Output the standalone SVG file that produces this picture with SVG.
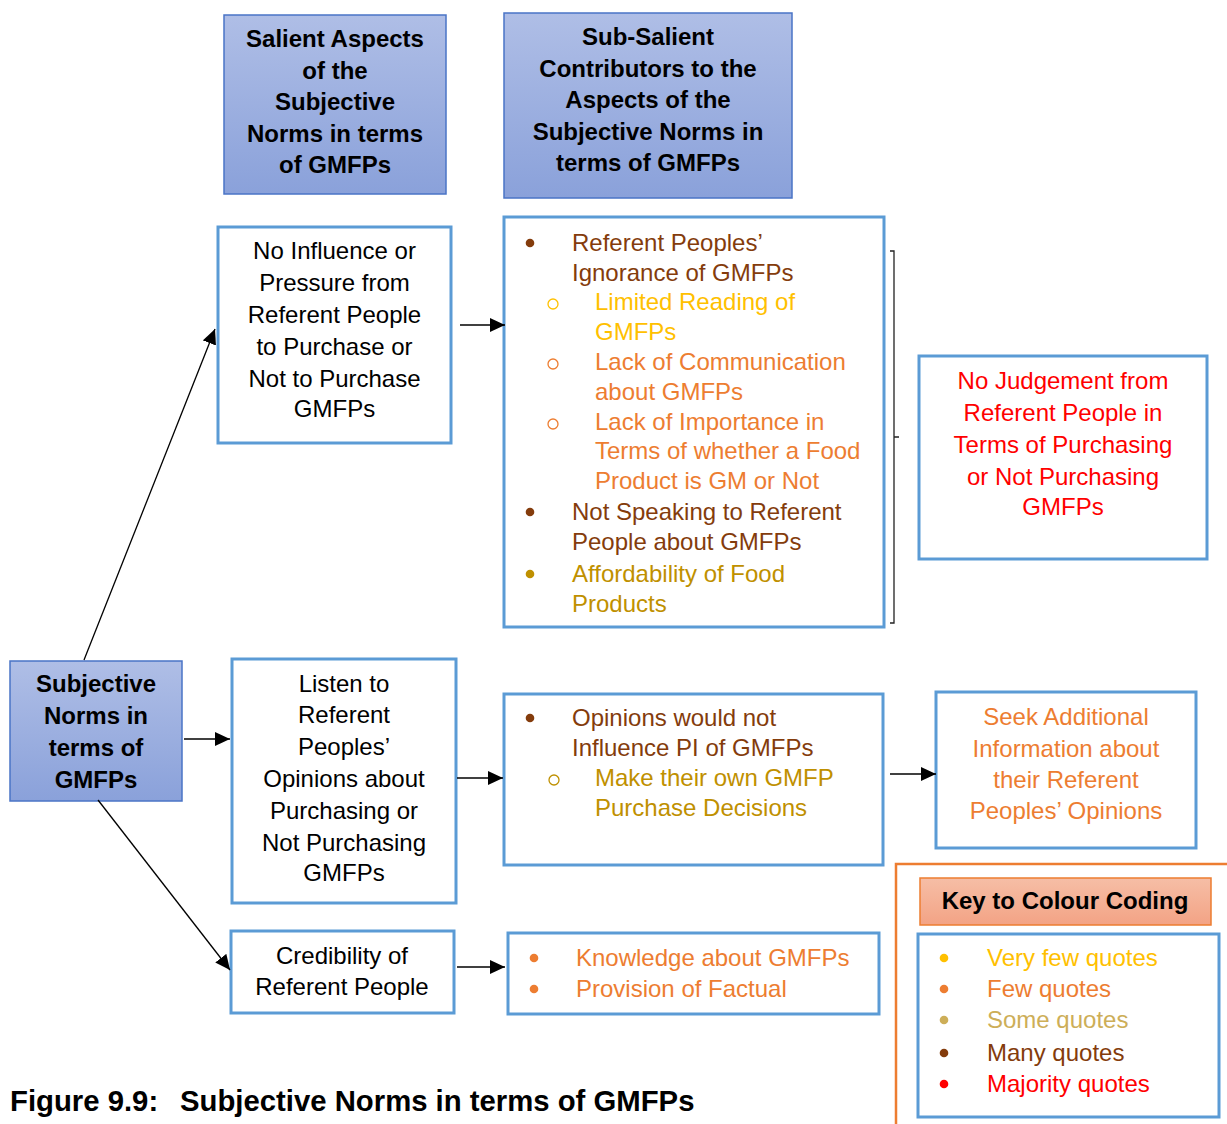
<svg xmlns="http://www.w3.org/2000/svg" width="1227" height="1124" viewBox="0 0 1227 1124">
  <defs>
    <linearGradient id="blueFill" x1="0" y1="0" x2="0" y2="1">
      <stop offset="0" stop-color="#afbee6"/>
      <stop offset="1" stop-color="#8aa1da"/>
    </linearGradient>
    <linearGradient id="salmonFill" x1="0" y1="0" x2="0" y2="1">
      <stop offset="0" stop-color="#f6bea6"/>
      <stop offset="1" stop-color="#f3a385"/>
    </linearGradient>
    <marker id="arrow" markerWidth="15" markerHeight="14" refX="15" refY="7" orient="auto" markerUnits="userSpaceOnUse">
      <path d="M0,0 L15,7 L0,14 z" fill="#000"/>
    </marker>
    <style>
      .t { font-family: "Liberation Sans", Arial, sans-serif; font-size: 24px; fill: #000; }
      .b { font-weight: bold; }
      .c { text-anchor: middle; }
      .ring { fill: none; stroke-width: 1.3; }
      .box { fill: #fff; stroke: #5b9bd5; stroke-width: 3; }
      .hdr { fill: url(#blueFill); stroke: #4a74c6; stroke-width: 1.5; }
      .conn { stroke: #000; stroke-width: 1.3; fill: none; marker-end: url(#arrow); }
      .many { fill: #843c0c; }
      .vfew { fill: #ffc000; }
      .few { fill: #ed7d31; }
      .some { fill: #bf9000; }
      .somekey { fill: #cdae58; }
      .major { fill: #ff0000; }
      .ring.vfew { stroke: #ffc000; fill: none; }
      .ring.few { stroke: #ed7d31; fill: none; }
      .ring.some { stroke: #bf9000; fill: none; }
    </style>
  </defs>

  <!-- column headings -->
  <g id="head-salient">
    <rect class="hdr" x="224" y="15" width="222" height="179"/>
    <text class="t b c" x="335" y="46.5">Salient Aspects</text>
    <text class="t b c" x="335" y="78.5">of the</text>
    <text class="t b c" x="335" y="109.5">Subjective</text>
    <text class="t b c" x="335" y="141.5">Norms in terms</text>
    <text class="t b c" x="335" y="172.5">of GMFPs</text>
  </g>
  <g id="head-subsalient">
    <rect class="hdr" x="504" y="13" width="288" height="185"/>
    <text class="t b c" x="648" y="44.5">Sub-Salient</text>
    <text class="t b c" x="648" y="76.5">Contributors to the</text>
    <text class="t b c" x="648" y="107.5">Aspects of the</text>
    <text class="t b c" x="648" y="139.5">Subjective Norms in</text>
    <text class="t b c" x="648" y="170.5">terms of GMFPs</text>
  </g>

  <!-- root -->
  <g id="subjective-norms">
    <rect class="hdr" x="10" y="661" width="172" height="140"/>
    <text class="t b c" x="96" y="692">Subjective</text>
    <text class="t b c" x="96" y="724">Norms in</text>
    <text class="t b c" x="96" y="756">terms of</text>
    <text class="t b c" x="96" y="788">GMFPs</text>
  </g>

  <!-- salient aspects -->
  <g id="no-influence">
    <rect class="box" x="218" y="227" width="233" height="216"/>
    <text class="t c" x="334.5" y="258.5">No Influence or</text>
    <text class="t c" x="334.5" y="290.5">Pressure from</text>
    <text class="t c" x="334.5" y="322.5">Referent People</text>
    <text class="t c" x="334.5" y="354.5">to Purchase or</text>
    <text class="t c" x="334.5" y="386.5">Not to Purchase</text>
    <text class="t c" x="334.5" y="416.5">GMFPs</text>
  </g>
  <g id="listen">
    <rect class="box" x="232" y="659" width="224" height="244"/>
    <text class="t c" x="344" y="691.5">Listen to</text>
    <text class="t c" x="344" y="722.5">Referent</text>
    <text class="t c" x="344" y="754.5">Peoples’</text>
    <text class="t c" x="344" y="786.5">Opinions about</text>
    <text class="t c" x="344" y="818.5">Purchasing or</text>
    <text class="t c" x="344" y="850.5">Not Purchasing</text>
    <text class="t c" x="344" y="880.5">GMFPs</text>
  </g>
  <g id="credibility">
    <rect class="box" x="231" y="931" width="223" height="82"/>
    <text class="t c" x="342" y="963.5">Credibility of</text>
    <text class="t c" x="342" y="994.5">Referent People</text>
  </g>

  <!-- sub-salient contributors -->
  <g id="ignorance-list">
    <rect class="box" x="504" y="217" width="380" height="410"/>
    <circle class="many" cx="530" cy="243" r="4.3"/>
    <text class="t many" x="572" y="251">Referent Peoples’</text>
    <text class="t many" x="572" y="281">Ignorance of GMFPs</text>
    <circle class="ring vfew" cx="553" cy="304" r="5"/>
    <text class="t vfew" x="595" y="310">Limited Reading of</text>
    <text class="t vfew" x="595" y="340">GMFPs</text>
    <circle class="ring few" cx="553" cy="364" r="5"/>
    <text class="t few" x="595" y="370">Lack of Communication</text>
    <text class="t few" x="595" y="400">about GMFPs</text>
    <circle class="ring few" cx="553" cy="424" r="5"/>
    <text class="t few" x="595" y="430">Lack of Importance in</text>
    <text class="t few" x="595" y="459">Terms of whether a Food</text>
    <text class="t few" x="595" y="489">Product is GM or Not</text>
    <circle class="many" cx="530" cy="512" r="4.3"/>
    <text class="t many" x="572" y="520">Not Speaking to Referent</text>
    <text class="t many" x="572" y="550">People about GMFPs</text>
    <circle class="some" cx="530" cy="574" r="4.3"/>
    <text class="t some" x="572" y="582">Affordability of Food</text>
    <text class="t some" x="572" y="612">Products</text>
  </g>
  <g id="opinions-list">
    <rect class="box" x="504" y="694" width="379" height="171"/>
    <circle class="many" cx="530" cy="718" r="4.3"/>
    <text class="t many" x="572" y="726">Opinions would not</text>
    <text class="t many" x="572" y="756">Influence PI of GMFPs</text>
    <circle class="ring some" cx="554" cy="780" r="5"/>
    <text class="t some" x="595" y="786">Make their own GMFP</text>
    <text class="t some" x="595" y="816">Purchase Decisions</text>
  </g>
  <g id="knowledge-list">
    <rect class="box" x="508" y="933" width="371" height="81"/>
    <circle class="few" cx="534" cy="958" r="4.3"/>
    <text class="t few" x="576" y="966">Knowledge about GMFPs</text>
    <circle class="few" cx="534" cy="989" r="4.3"/>
    <text class="t few" x="576" y="997">Provision of Factual</text>
  </g>

  <!-- outcomes -->
  <g id="no-judgement">
    <rect class="box" x="919" y="356" width="288" height="203"/>
    <text class="t c major" x="1063" y="388.5">No Judgement from</text>
    <text class="t c major" x="1063" y="420.5">Referent People in</text>
    <text class="t c major" x="1063" y="452.5">Terms of Purchasing</text>
    <text class="t c major" x="1063" y="484.5">or Not Purchasing</text>
    <text class="t c major" x="1063" y="514.5">GMFPs</text>
  </g>
  <g id="seek-information">
    <rect class="box" x="936" y="692" width="260" height="156"/>
    <text class="t c few" x="1066" y="724.5">Seek Additional</text>
    <text class="t c few" x="1066" y="756.5">Information about</text>
    <text class="t c few" x="1066" y="787.5">their Referent</text>
    <text class="t c few" x="1066" y="818.5">Peoples’ Opinions</text>
  </g>

  <!-- colour key -->
  <g id="colour-key">
    <path d="M1230,864 H896 V1128" fill="none" stroke="#ed7d31" stroke-width="2.5"/>
    <rect x="920" y="878" width="291" height="47" fill="url(#salmonFill)" stroke="#ed7d31" stroke-width="1.5"/>
    <text class="t b c" x="1065" y="908.5">Key to Colour Coding</text>
    <rect class="box" x="918" y="934" width="301" height="183"/>
    <circle class="vfew" cx="944" cy="958" r="4.3"/>
    <text class="t vfew" x="987" y="966">Very few quotes</text>
    <circle class="few" cx="944" cy="989" r="4.3"/>
    <text class="t few" x="987" y="997">Few quotes</text>
    <circle class="somekey" cx="944" cy="1020" r="4.3"/>
    <text class="t somekey" x="987" y="1028">Some quotes</text>
    <circle class="many" cx="944" cy="1053" r="4.3"/>
    <text class="t many" x="987" y="1061">Many quotes</text>
    <circle class="major" cx="944" cy="1084" r="4.3"/>
    <text class="t major" x="987" y="1092">Majority quotes</text>
  </g>

  <!-- connectors -->
  <g id="connectors">
    <line class="conn" x1="84" y1="660" x2="215" y2="329"/>
    <line class="conn" x1="184" y1="739" x2="230" y2="739"/>
    <line class="conn" x1="98" y1="800" x2="230" y2="970"/>
    <line class="conn" x1="460" y1="325" x2="505" y2="325"/>
    <line class="conn" x1="457" y1="778" x2="503" y2="778"/>
    <line class="conn" x1="457" y1="967" x2="505" y2="967"/>
    <line class="conn" x1="890" y1="774" x2="936" y2="774"/>
    <path d="M890,251 H894 V623 H890 M894,437 H899" fill="none" stroke="#222" stroke-width="1.3"/>
  </g>

  <!-- caption -->
  <text class="t b" x="10" y="1111" style="font-size:29.3px">Figure 9.9:</text>
  <text class="t b" x="180" y="1111" style="font-size:29.3px">Subjective Norms in terms of GMFPs</text>
</svg>
